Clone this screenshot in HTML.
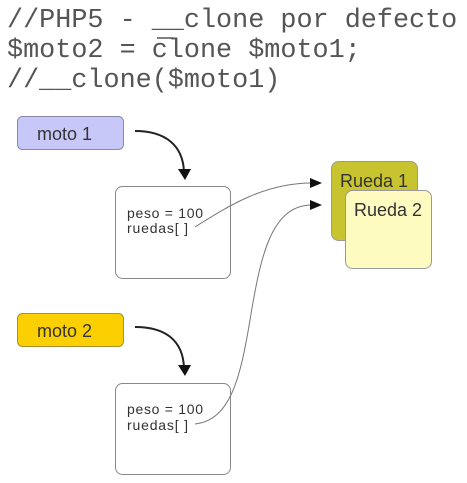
<!DOCTYPE html>
<html><head><style>
body{margin:0;background:#fff;width:467px;height:483px;overflow:hidden;position:relative}
.code{position:absolute;left:7px;top:6px;font-family:"Liberation Mono",monospace;font-size:26.8px;line-height:30px;color:#555;white-space:pre;font-weight:normal;-webkit-text-stroke:0}
</style></head><body>
<div class="code">//PHP5 - __clone por defecto
$moto2 = clone $moto1;
//__clone($moto1)</div>
<svg width="467" height="483" style="position:absolute;left:0;top:0" font-family="Liberation Sans, sans-serif">
<line x1="157" y1="38" x2="173" y2="38" stroke="#555" stroke-width="1.5"/>
<rect x="17.5" y="116.5" width="106" height="33" rx="5" fill="#c8c8f8" stroke="#8888b0"/>
<text x="37" y="140" font-size="18" fill="#333">moto 1</text>
<rect x="17.5" y="313.5" width="106" height="33" rx="5" fill="#fccf00" stroke="#a89030"/>
<text x="37" y="337" font-size="18" fill="#333">moto 2</text>
<rect x="115.5" y="186.5" width="115" height="92" rx="7" fill="#fff" stroke="#888"/>
<text x="127" y="218" font-size="14" fill="#333" textLength="76">peso = 100</text>
<text x="127" y="233" font-size="14" fill="#333" textLength="61">ruedas[ ]</text>
<rect x="115.5" y="383.5" width="115" height="91" rx="7" fill="#fff" stroke="#888"/>
<text x="127" y="414" font-size="14" fill="#333" textLength="76">peso = 100</text>
<text x="127" y="430" font-size="14" fill="#333" textLength="61">ruedas[ ]</text>
<rect x="331.5" y="161.5" width="86" height="79" rx="7" fill="#c8c430" stroke="#999"/>
<text x="340" y="187" font-size="18" fill="#333">Rueda 1</text>
<rect x="345.5" y="190.5" width="86" height="78" rx="7" fill="#fdfbc0" stroke="#999"/>
<text x="354" y="216" font-size="18" fill="#333">Rueda 2</text>
<path d="M135 131 C165 131 183 145 184 172" fill="none" stroke="#222" stroke-width="2"/>
<polygon points="178,169 191,169 185,180" fill="#111"/>
<path d="M135 327 C165 327 183 340 184 368" fill="none" stroke="#222" stroke-width="2"/>
<polygon points="178,365 191,365 185,376" fill="#111"/>
<path d="M195 227 C230 205 265 183 312 183" fill="none" stroke="#777" stroke-width="1"/>
<polygon points="310,178 322,183 310,188" fill="#111"/>
<path d="M195 424 C230 420 240 380 250 320 C260 260 270 205 312 205" fill="none" stroke="#777" stroke-width="1"/>
<polygon points="310,200 322,205 310,210" fill="#111"/>
</svg>
</body></html>
